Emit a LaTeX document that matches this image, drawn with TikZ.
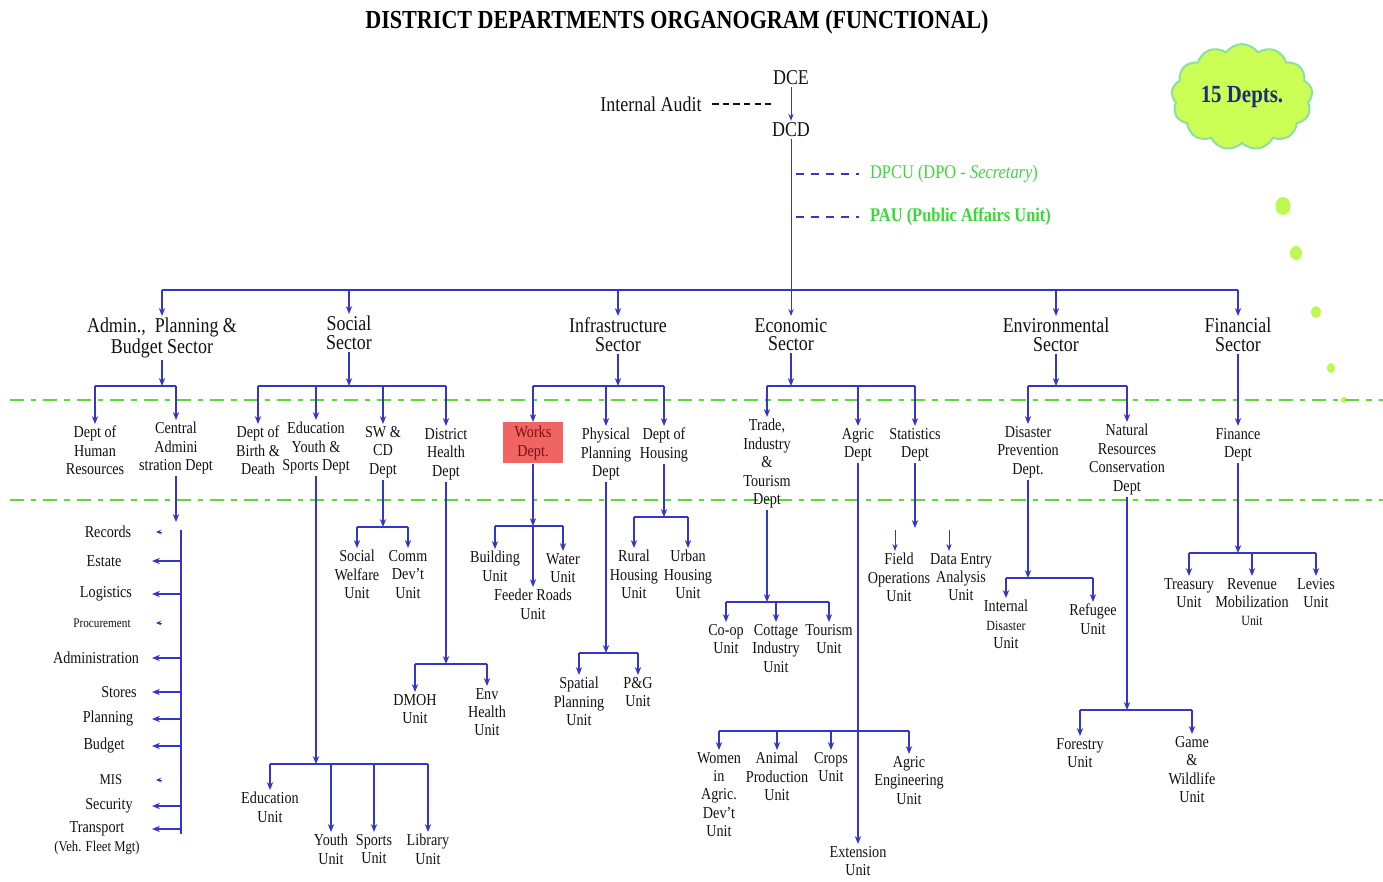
\documentclass[tikz,border=0pt]{standalone}
\usepackage{fontspec}
\setmainfont[FakeStretch=0.85]{Liberation Serif}
\usetikzlibrary{positioning,arrows.meta,shapes.symbols}
\definecolor{lnblue}{HTML}{3535C8}
\definecolor{bandgreen}{HTML}{5FD93A}
\definecolor{labgreen}{HTML}{3BD83B}
\definecolor{cloudfill}{HTML}{CCFF55}
\definecolor{cloudedge}{HTML}{8FE0A0}
\definecolor{cloudtext}{HTML}{1E2C7C}
\definecolor{worksred}{HTML}{F06464}
\definecolor{worksink}{HTML}{7A1010}
\definecolor{ink}{HTML}{111111}

\begin{document}
\begin{tikzpicture}[
  x=0.02cm, y=-0.02cm,
  font=\color{ink},
  flow/.style={-{Stealth[length=4.5pt,width=3.6pt]}, line width=0.9pt, draw=lnblue},
  thinflow/.style={-{Stealth[length=4pt,width=3pt]}, line width=0.55pt, draw=lnblue},
  stub/.style={-{Stealth[length=3pt,width=2.6pt]}, line width=0.5pt, draw=lnblue},
  link/.style={line width=0.9pt, draw=lnblue},
  band/.style={draw=bandgreen, line width=1.3pt, dash pattern=on 8pt off 4pt on 3pt off 4pt},
  top/.style={font=\fontsize{12}{13}\selectfont\color{ink}, inner sep=1pt},
  sector/.style={font=\fontsize{12}{10.5}\selectfont\color{ink}, align=center, inner sep=1pt, anchor=north},
  dept/.style={font=\fontsize{9.5}{10.5}\selectfont\color{ink}, align=center, inner sep=1pt, anchor=north},
  unit/.style={dept},
  item/.style={font=\fontsize{9.5}{10.5}\selectfont\color{ink}, align=center, inner sep=1pt},
  gnote/.style={font=\fontsize{11}{12}\selectfont\color{labgreen}, anchor=west, inner sep=1pt},
  works/.style={fill=worksred, minimum width=1.2cm, minimum height=0.82cm, inner sep=1pt,
    align=center, anchor=north, font=\fontsize{9.5}{10.5}\selectfont\color{worksink}},
]
\useasboundingbox (0,0) rectangle (1383,882);

% ---- title, cloud --------------------------------------------------------
\node[font=\bfseries\fontsize{14.8}{16}\selectfont] (title) at (677,22)
  {DISTRICT DEPARTMENTS ORGANOGRAM (FUNCTIONAL)};
\node[cloud, cloud puffs=13, cloud puff arc=110, aspect=1.45, draw=cloudedge, fill=cloudfill,
      line width=1.2pt, minimum width=2.4cm, minimum height=1.75cm,
      font=\bfseries\fontsize{14}{15}\selectfont\color{cloudtext}] (cloud) at (1242,97) {15 Depts.};
\fill[cloudfill!85!bandgreen] (1283,206) circle[x radius=4.3pt, y radius=5.1pt];
\fill[cloudfill!85!bandgreen] (1296,253) circle[x radius=3.4pt, y radius=4pt];
\fill[cloudfill!85!bandgreen] (1316,312) circle[x radius=2.8pt, y radius=3.4pt];
\fill[cloudfill!85!bandgreen] (1331,368) circle[x radius=2.3pt, y radius=2.8pt];
\fill[cloudfill!85!bandgreen] (1344,400) circle[radius=1.8pt];

% green bands
\draw[band] (10,400) -- (1383,400);
\draw[band] (10,500) -- (1383,500);

% ---- DCE / DCD -----------------------------------------------------------
\node[top] (dce) at (791,78) {DCE};
\node[top] (dcd) at (791,130) {DCD};
\node[top] (audit) at (651,104) {Internal Audit};
\coordinate (auditEnd) at (774,104);
\draw[ink, line width=0.6pt, dash pattern=on 3.5pt off 2.5pt, shorten <=5pt] (audit) -- (auditEnd);
\draw[thinflow] (dce) -- (dcd);

\node[gnote] (dpcu) at (868,174) {DPCU (DPO - \textit{Secretary})};
\node[gnote, font=\bfseries\fontsize{11}{12}\selectfont\color{labgreen}] (pau) at (868,217)
  {PAU (Public Affairs Unit)};
\draw[lnblue, line width=1.2pt, dash pattern=on 4.5pt off 4pt, shorten <=3pt, shorten >=5pt]
  (dcd |- dpcu) -- (dpcu.west);
\draw[lnblue, line width=1.2pt, dash pattern=on 4.5pt off 4pt, shorten <=3pt, shorten >=5pt]
  (dcd |- pau) -- (pau.west);

% ---- sectors -------------------------------------------------------------
\coordinate (topbus) at (0,290);
\node[sector] (secAdm) at (162,316) {Admin.,\ \ Planning \&\\Budget Sector};
\node[sector] (secSoc) at (349,314) {Social\\Sector};
\node[sector] (secInf) at (618,316) {Infrastructure\\Sector};
\node[sector] (secEco) at (791,316) {Economic\\Sector};
\node[sector] (secEnv) at (1056,316) {Environmental\\Sector};
\node[sector] (secFin) at (1238,316) {Financial\\Sector};

\draw[link] (secAdm.north |- topbus) -- (secFin.north |- topbus);
\foreach \s in {secAdm,secSoc,secInf,secEnv,secFin}
  \draw[flow] (\s.north |- topbus) -- (\s.north);
\draw[thinflow] (dcd) -- (secEco);

% ---- departments ---------------------------------------------------------
\coordinate (deptbus) at (0,386);
\node[dept] (dHR) at (95,424)  {Dept of\\Human\\Resources};
\node[dept] (dCA) at (176,420) {Central\\Admini\\stration Dept};
\node[dept] (dBD) at (258,424) {Dept of\\Birth \&\\Death};
\node[dept] (dEY) at (316,420) {Education\\Youth \&\\Sports Dept};
\node[dept] (dSW) at (383,424) {SW \&\\CD\\Dept};
\node[dept] (dDH) at (446,426) {District\\Health\\Dept};
\node[works] (dWK) at (533,422) {Works\\Dept.};
\node[dept] (dPP) at (606,426) {Physical\\Planning\\Dept};
\node[dept] (dHO) at (664,426) {Dept of\\Housing};
\node[dept] (dTI) at (767,417) {Trade,\\Industry\\\&\\Tourism\\Dept};
\node[dept] (dAG) at (858,426) {Agric\\Dept};
\node[dept] (dST) at (915,426) {Statistics\\Dept};
\node[dept] (dDP) at (1028,424) {Disaster\\Prevention\\Dept.};
\node[dept] (dNR) at (1127,422) {Natural\\Resources\\Conservation\\Dept};
\node[dept] (dFI) at (1238,426) {Finance\\Dept};

\foreach \s in {secAdm,secSoc,secInf,secEco,secEnv}
  \draw[flow] (\s) -- (\s |- deptbus);
\draw[link] (dHR |- deptbus) -- (dCA |- deptbus);
\draw[link] (dBD |- deptbus) -- (dDH |- deptbus);
\draw[link] (dWK |- deptbus) -- (dHO |- deptbus);
\draw[link] (dTI |- deptbus) -- (dST |- deptbus);
\draw[link] (dDP |- deptbus) -- (dNR |- deptbus);
\foreach \d in {dHR,dCA,dBD,dEY,dSW,dDH,dWK,dPP,dHO,dTI,dAG,dST,dDP,dNR}
  \draw[flow] (\d |- deptbus) -- (\d.north);
\draw[flow] (secFin) -- (dFI);

% ---- central administration list -----------------------------------------
\coordinate (caEnd) at (0,522);
\draw[flow] (dCA) -- (dCA |- caEnd);
\coordinate (listTop) at (181,530);
\coordinate (listBot) at (181,834);
\coordinate (tipX) at (152,0);
\coordinate (stubTip) at (156,0);
\coordinate (stubX) at (162,0);
\coordinate (traLine) at (0,829);
\draw[link] (listTop) -- (listBot);
\node[item] (iRec) at (108,532) {Records};
\node[item] (iEst) at (104,561) {Estate};
\node[item] (iLog) at (106,594) {Logistics};
\node[item, font=\fontsize{7.5}{8}\selectfont\color{ink}] (iPro) at (102,623) {Procurement};
\node[item] (iAdm) at (96,658) {Administration};
\node[item] (iSto) at (119,692) {Stores};
\node[item] (iPla) at (108,719) {Planning};
\node[item] (iBud) at (104,746) {Budget};
\node[item, font=\fontsize{8.5}{9}\selectfont\color{ink}] (iMIS) at (111,780) {MIS};
\node[item] (iSec) at (109,806) {Security};
\node[item] (iTra) at (97,838) {Transport\\{\fontsize{8.5}{9}\selectfont(Veh. Fleet Mgt)}};
\foreach \i in {iEst,iLog,iAdm,iSto,iPla,iBud,iSec}
  \draw[flow] (listTop |- \i) -- (tipX |- \i);
\foreach \i in {iRec,iPro,iMIS}
  \draw[stub] (stubX |- \i) -- (stubTip |- \i);
\draw[flow] (listTop |- traLine) -- (tipX |- traLine);

% ---- social sector units -------------------------------------------------
\coordinate (eyBus) at (0,764);
\draw[flow] (dEY) -- (dEY |- eyBus);
\node[unit] (uEdu) at (270,790) {Education\\Unit};
\node[unit] (uYou) at (331,832) {Youth\\Unit};
\node[unit] (uSpo) at (374,832) {Sports\\Unit};
\node[unit] (uLib) at (428,832) {Library\\Unit};
\draw[link] (uEdu |- eyBus) -- (uLib |- eyBus);
\foreach \nd in {uEdu,uYou,uSpo,uLib}
  \draw[flow] (\nd |- eyBus) -- (\nd.north);

\coordinate (swBus) at (0,527);
\draw[flow] (dSW) -- (dSW |- swBus);
\node[unit] (uSWU) at (357,548) {Social\\Welfare\\Unit};
\node[unit] (uCDU) at (408,548) {Comm\\Dev't\\Unit};
\draw[link] (uSWU |- swBus) -- (uCDU |- swBus);
\foreach \nd in {uSWU,uCDU}
  \draw[flow] (\nd |- swBus) -- (\nd.north);

\coordinate (dhBus) at (0,664);
\draw[flow] (dDH) -- (dDH |- dhBus);
\node[unit] (uDMO) at (415,692) {DMOH\\Unit};
\node[unit] (uEHU) at (487,686) {Env\\Health\\Unit};
\draw[link] (uDMO |- dhBus) -- (uEHU |- dhBus);
\foreach \nd in {uDMO,uEHU}
  \draw[flow] (\nd |- dhBus) -- (\nd.north);

% ---- infrastructure units ------------------------------------------------
\coordinate (wkBus) at (0,526);
\node[unit] (uBLD) at (495,549) {Building\\Unit};
\node[unit] (uWTR) at (563,551) {Water\\Unit};
\node[unit] (uFRU) at (533,587) {Feeder Roads\\Unit};
\draw[flow] (dWK) -- (dWK |- wkBus);
\draw[flow] (dWK |- wkBus) -- (uFRU);
\draw[link] (uBLD |- wkBus) -- (uWTR |- wkBus);
\foreach \nd in {uBLD,uWTR}
  \draw[flow] (\nd |- wkBus) -- (\nd.north);

\coordinate (ppBus) at (0,653);
\draw[flow] (dPP) -- (dPP |- ppBus);
\node[unit] (uSPU) at (579,675) {Spatial\\Planning\\Unit};
\node[unit] (uPGU) at (638,675) {P\&G\\Unit};
\draw[link] (uSPU |- ppBus) -- (uPGU |- ppBus);
\foreach \nd in {uSPU,uPGU}
  \draw[flow] (\nd |- ppBus) -- (\nd.north);

\coordinate (hoBus) at (0,517);
\draw[flow] (dHO) -- (dHO |- hoBus);
\node[unit] (uRHU) at (634,548) {Rural\\Housing\\Unit};
\node[unit] (uUHU) at (688,548) {Urban\\Housing\\Unit};
\draw[link] (uRHU |- hoBus) -- (uUHU |- hoBus);
\foreach \nd in {uRHU,uUHU}
  \draw[flow] (\nd |- hoBus) -- (\nd.north);

% ---- economic units ------------------------------------------------------
\coordinate (tiBus) at (0,602);
\draw[flow] (dTI) -- (dTI |- tiBus);
\node[unit] (uCOP) at (726,622) {Co-op\\Unit};
\node[unit] (uCIU) at (776,622) {Cottage\\Industry\\Unit};
\node[unit] (uTOU) at (829,622) {Tourism\\Unit};
\draw[link] (uCOP |- tiBus) -- (uTOU |- tiBus);
\foreach \nd in {uCOP,uCIU,uTOU}
  \draw[flow] (\nd |- tiBus) -- (\nd.north);

\coordinate (agBus) at (0,731);
\node[unit] (uEXT) at (858,844) {Extension\\Unit};
\draw[flow] (dAG) -- (uEXT);
\node[unit] (uWAD) at (719,750) {Women\\in\\Agric.\\Dev't\\Unit};
\node[unit] (uAPU) at (777,750) {Animal\\Production\\Unit};
\node[unit] (uCRU) at (831,750) {Crops\\Unit};
\node[unit] (uAEU) at (909,754) {Agric\\Engineering\\Unit};
\draw[link] (uWAD |- agBus) -- (uAEU |- agBus);
\foreach \nd in {uWAD,uAPU,uCRU,uAEU}
  \draw[flow] (\nd |- agBus) -- (\nd.north);

\coordinate (stEnd) at (0,528);
\draw[flow] (dST) -- (dST |- stEnd);
\node[unit] (uFOU) at (899,551) {Field\\Operations\\Unit};
\node[unit] (uDEU) at (961,551) {Data Entry\\Analysis\\Unit};
\coordinate (foTop) at (895,530);
\coordinate (deTop) at (949,530);
\draw[thinflow] (foTop) -- (foTop |- uFOU.north);
\draw[thinflow] (deTop) -- (deTop |- uDEU.north);

% ---- environmental units -------------------------------------------------
\coordinate (dpBus) at (0,578);
\draw[flow] (dDP) -- (dDP |- dpBus);
\node[unit] (uIDU) at (1006,598) {Internal\\{\fontsize{8}{9}\selectfont Disaster}\\Unit};
\node[unit] (uRFU) at (1093,602) {Refugee\\Unit};
\draw[link] (uIDU |- dpBus) -- (uRFU |- dpBus);
\foreach \nd in {uIDU,uRFU}
  \draw[flow] (\nd |- dpBus) -- (\nd.north);

\coordinate (nrBus) at (0,710);
\draw[flow] (dNR) -- (dNR |- nrBus);
\node[unit] (uFOR) at (1080,736) {Forestry\\Unit};
\node[unit] (uGWU) at (1192,734) {Game\\\&\\Wildlife\\Unit};
\draw[link] (uFOR |- nrBus) -- (uGWU |- nrBus);
\foreach \nd in {uFOR,uGWU}
  \draw[flow] (\nd |- nrBus) -- (\nd.north);

% ---- financial units -----------------------------------------------------
\coordinate (fiBus) at (0,553);
\draw[flow] (dFI) -- (dFI |- fiBus);
\node[unit] (uTRU) at (1189,576) {Treasury\\Unit};
\node[unit] (uRMU) at (1252,576) {Revenue\\Mobilization\\{\fontsize{8}{9}\selectfont Unit}};
\node[unit] (uLVU) at (1316,576) {Levies\\Unit};
\draw[link] (uTRU |- fiBus) -- (uLVU |- fiBus);
\foreach \nd in {uTRU,uRMU,uLVU}
  \draw[flow] (\nd |- fiBus) -- (\nd.north);

\end{tikzpicture}
\end{document}
